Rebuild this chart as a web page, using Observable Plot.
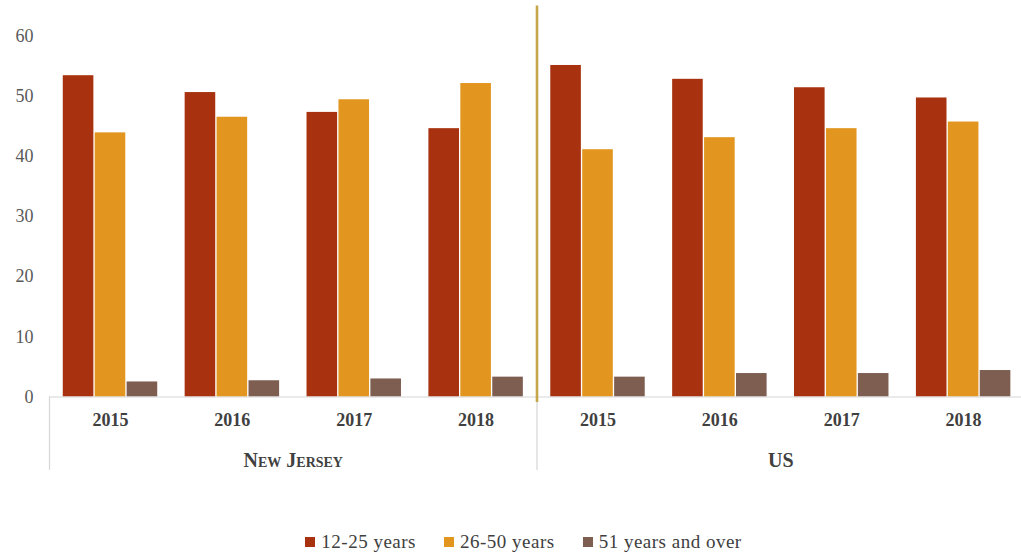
<!DOCTYPE html>
<html>
<head>
<meta charset="utf-8">
<script src="https://cdn.jsdelivr.net/npm/d3@7"></script>
<script src="https://cdn.jsdelivr.net/npm/@observablehq/plot@0.6"></script>
<style>
  html, body { margin: 0; padding: 0; background: #fff; }
  #chart svg { display: block; }
  g[aria-label^="x-axis"] text { font-weight: bold; fill: #404040; }
  g[aria-label^="y-axis"] text { fill: #595959; }
  #legend { display: flex; justify-content: center; align-items: center; padding-left: 26px;
    font-family: "Liberation Serif", "Times New Roman", serif; font-size: 19px; letter-spacing: 0.5px;
    color: #404040; height: 22px; margin-top: 6px; }
  #legend .item { display: flex; align-items: center; margin: 0 14px; }
  #legend .sw { width: 10px; height: 10px; margin-right: 6px; }
</style>
</head>
<body>
<div id="chart"></div>
<div id="legend"></div>
<script>
const regions = ["New Jersey", "US"];
const years = ["2015", "2016", "2017", "2018"];
const seriesNames = ["12-25 years", "26-50 years", "51 years and over"];
const seriesColors = ["#A8320F", "#E2961F", "#7F5E52"];
// values per series, order: NJ 2015..2018, US 2015..2018
const age12to25 = [53.4, 50.6, 47.3, 44.6, 55.1, 52.8, 51.4, 49.7];
const age26to50 = [43.9, 46.5, 49.4, 52.1, 41.1, 43.1, 44.6, 45.7];
const age51plus = [2.5, 2.7, 3.0, 3.3, 3.3, 3.9, 3.9, 4.4];
const yTicks = [0, 10, 20, 30, 40, 50, 60];

const groups = regions.flatMap(r => years.map(y => ({region: r, year: y})));
const seriesValues = [age12to25, age26to50, age51plus];
const rows = [];
seriesValues.forEach((vals, k) => vals.forEach((v, g) => rows.push({
  g, k, series: seriesNames[k], region: groups[g].region, year: groups[g].year, value: v
})));

const barStart = 0.113, barStep = 0.262, barWidth = 0.251;
const nYears = years.length;
const boundaries = d3.range(regions.length + 1).map(i => i * nYears);

const chart = Plot.plot({
  width: 1021,
  height: 525,
  marginTop: 35.5,
  marginBottom: 128.5,
  marginLeft: 49,
  marginRight: 0,
  style: {fontFamily: "'Liberation Serif', 'Times New Roman', serif", fontSize: "18px", background: "white"},
  x: {domain: [0, groups.length], range: [49, 1024], ticks: groups.map((d, i) => i + 0.5),
      tickFormat: v => groups[Math.floor(v)].year, tickSize: 0, tickPadding: 16, label: null, fontSize: 19},
  y: {domain: [0, 60], ticks: yTicks, tickSize: 0, tickPadding: 16, label: null},
  color: {domain: seriesNames, range: seriesColors},
  marks: [
    Plot.rectY(rows, {
      x1: d => d.g + barStart + d.k * barStep,
      x2: d => d.g + barStart + d.k * barStep + barWidth,
      y1: 0, y2: "value", fill: "series"
    }),
    Plot.ruleY([0], {stroke: "#d6d6d6", strokeWidth: 1.2}),
    Plot.ruleX(boundaries, {y1: 0, y2: -12.2, stroke: "#d6d6d6", strokeWidth: 1.2}),
    Plot.ruleX(boundaries.slice(1, -1), {y1: -0.9, y2: 65, stroke: "#C6A64A", strokeWidth: 2.6}),
    Plot.text(regions, {
      x: (d, i) => i * nYears + nYears / 2, y: 0, dy: 64,
      text: d => d, fontSize: 20, fontWeight: "bold", fill: "#404040",
      fontVariant: "small-caps"
    })
  ]
});
document.getElementById("chart").appendChild(chart);
chart.querySelectorAll('g[aria-label="text"] text').forEach(t => t.style.fontVariant = "small-caps");

const legend = document.getElementById("legend");
seriesNames.forEach((name, i) => {
  const item = document.createElement("div");
  item.className = "item";
  const sw = document.createElement("div");
  sw.className = "sw";
  sw.style.background = seriesColors[i];
  const label = document.createElement("span");
  label.textContent = name;
  item.appendChild(sw);
  item.appendChild(label);
  legend.appendChild(item);
});
</script>
</body>
</html>
